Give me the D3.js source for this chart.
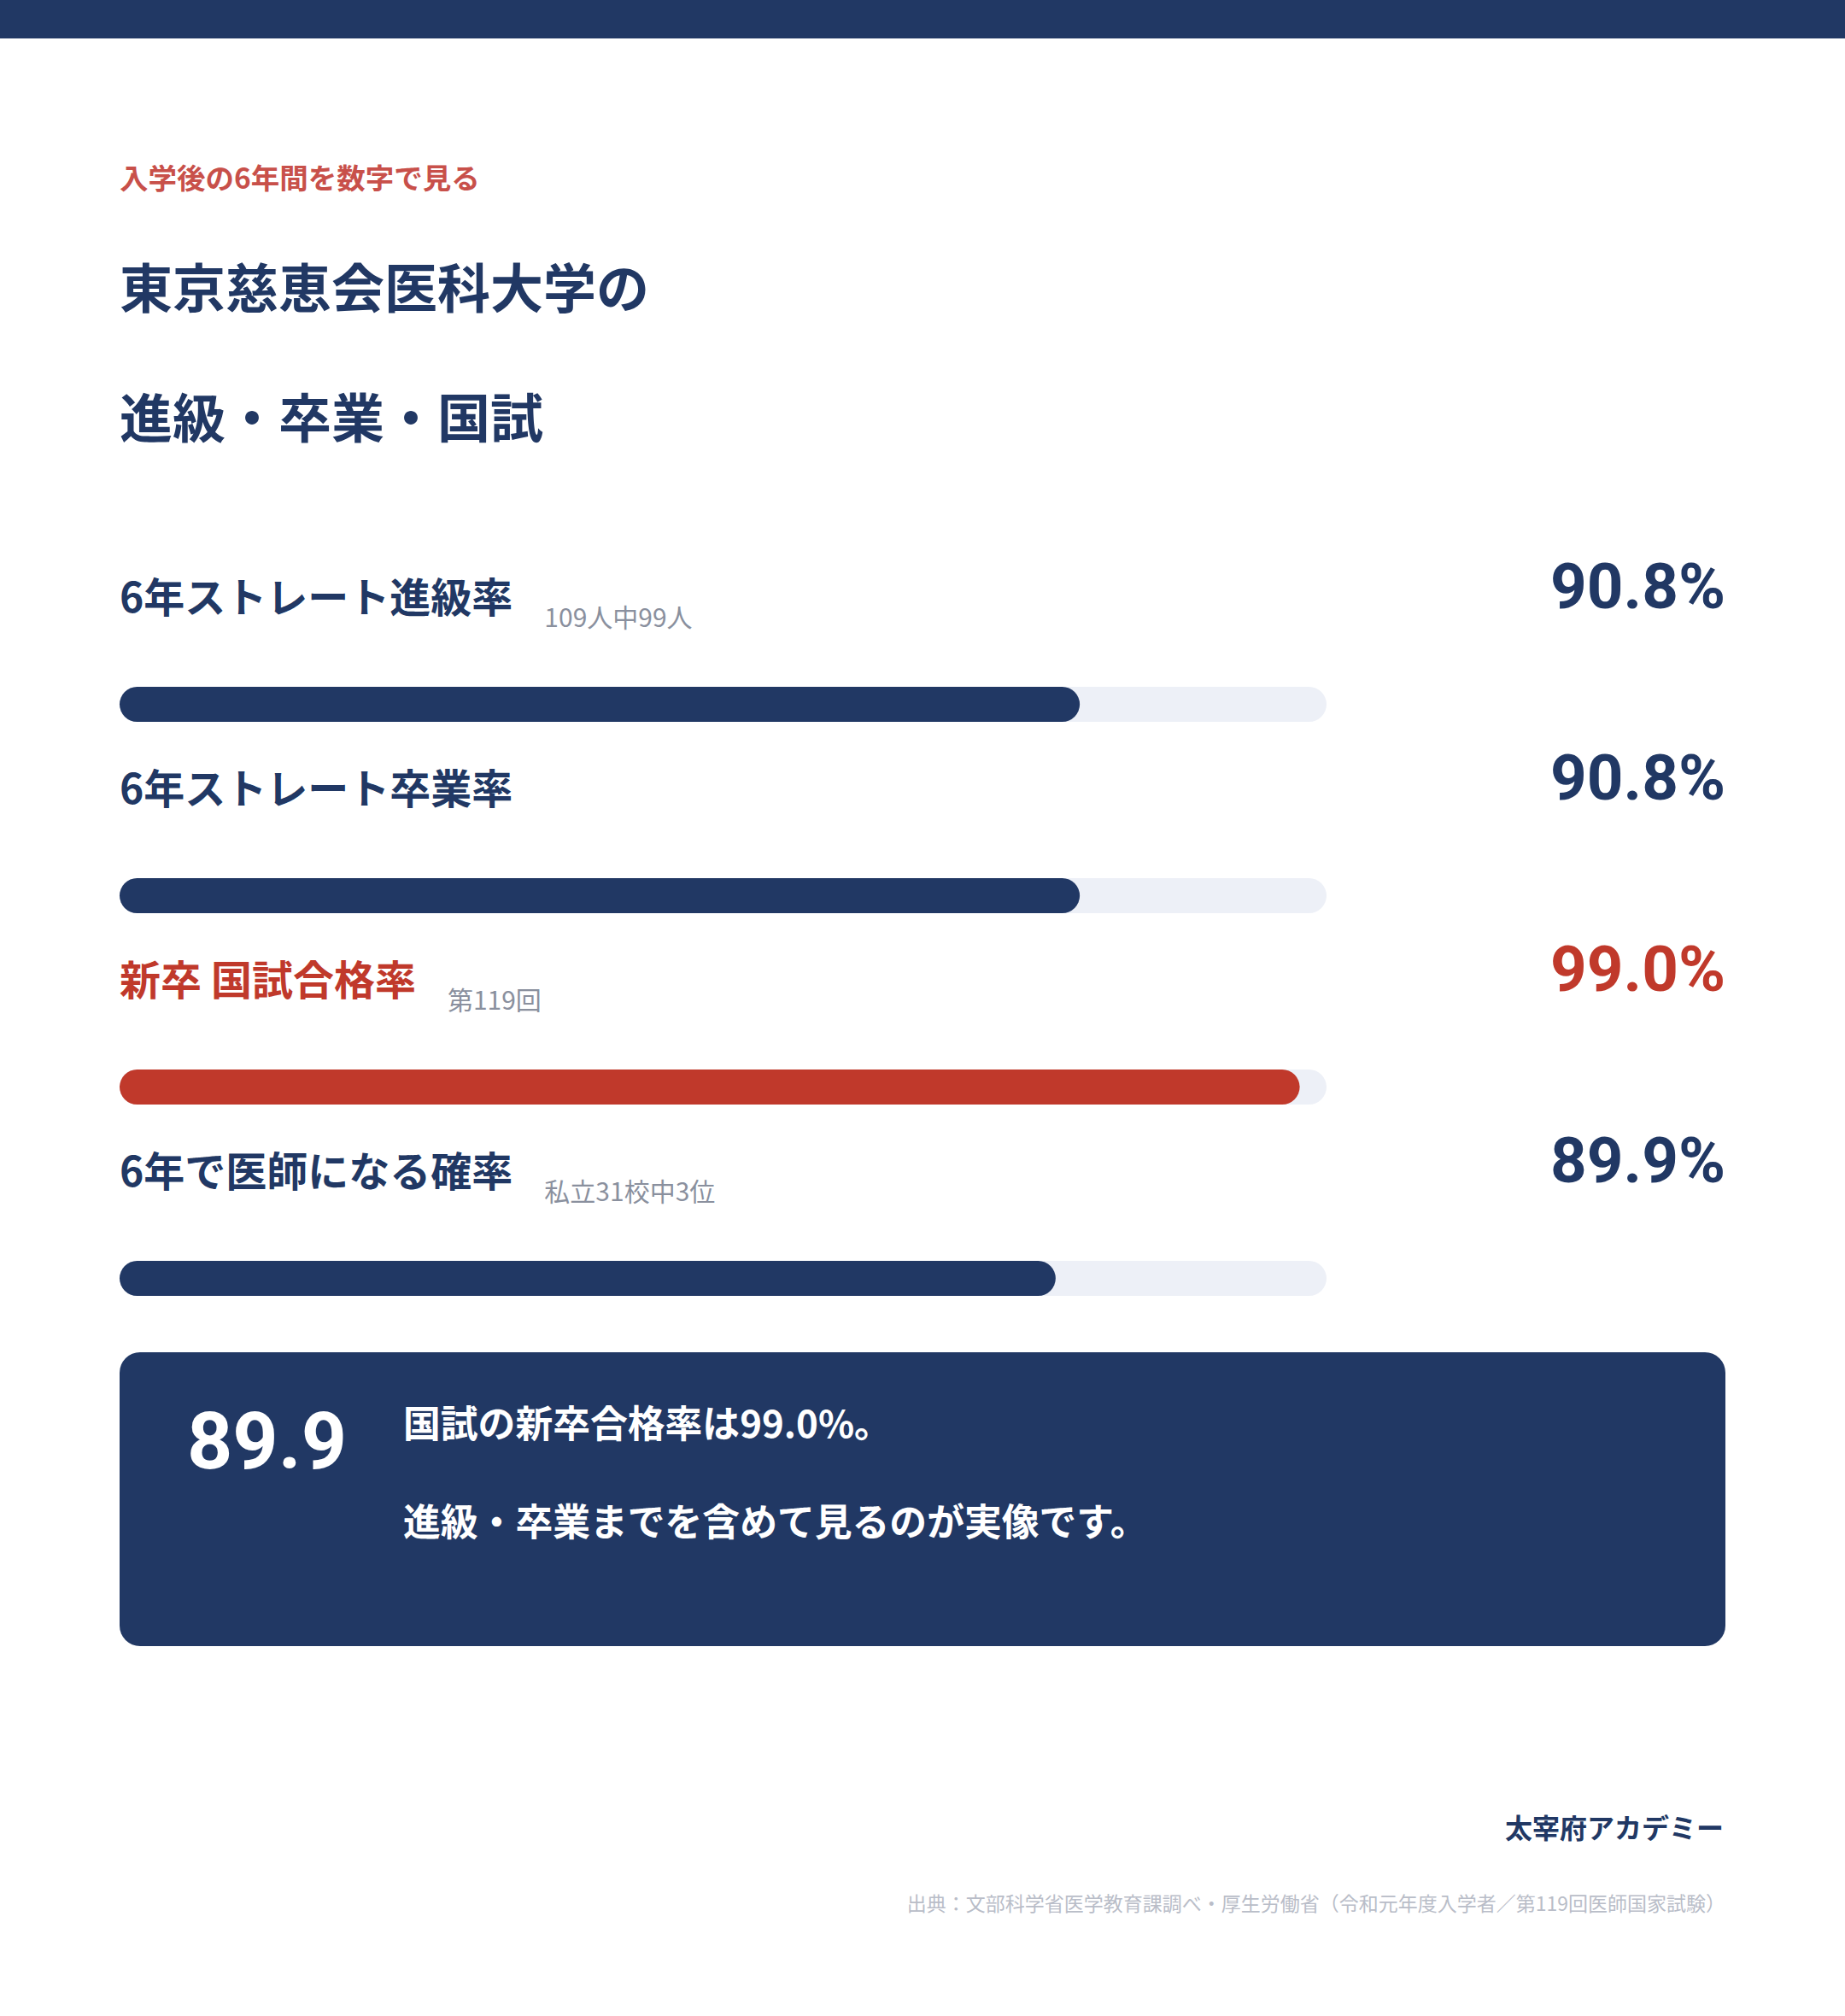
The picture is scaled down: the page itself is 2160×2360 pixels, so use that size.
<!DOCTYPE html>
<html>
<head>
<meta charset="utf-8">
<script src="https://cdn.jsdelivr.net/npm/d3@7"></script>
<style>
	body { margin: 0; background: #ffffff; }
	svg { display: block; }
</style>
</head>
<body>
<script>
var width = 2160;
var height = 2360;

var navy = "#213864";
var red = "#c0392b";
var track = "#edf0f7";
var gray = "#8a909e";
var font = "'Noto Sans CJK JP', 'Noto Sans', sans-serif";
var numFont = "Roboto, 'Liberation Sans', sans-serif";

// data
var labels = ["6年ストレート進級率", "6年ストレート卒業率", "新卒 国試合格率", "6年で医師になる確率"];
var values = [90.8, 90.8, 99.0, 89.9];
var notes = ["109人中99人", "", "第119回", "私立31校中3位"];
var highlight = [false, false, true, false];
var scaleDomain = [55, 100];

var kicker = "入学後の6年間を数字で見る";
var titleLines = ["東京慈恵会医科大学の", "進級・卒業・国試"];
var boxLines = ["国試の新卒合格率は99.0%。", "進級・卒業までを含めて見るのが実像です。"];
var brand = "太宰府アカデミー";
var source = "出典：文部科学省医学教育課調べ・厚生労働省（令和元年度入学者／第119回医師国家試験）";

var rows = labels.map(function(d, i) {
	return { label: d, value: values[i], note: notes[i], hot: highlight[i] };
});

function createSVG(){
	return d3.select("body")
	.append("svg")
	.attr("width", width)
	.attr("height", height);
}

var svg = createSVG();

svg.append("rect")
	.attr("x", 0).attr("y", 0)
	.attr("width", width).attr("height", 45)
	.attr("fill", navy);

function writeHeader(){
	svg.append("text")
	.attr("x", 140)
	.attr("y", 221)
	.attr("font-family", font)
	.attr("font-weight", 700)
	.attr("font-size", 33.5)
	.attr("fill", "#c8504a")
	.text(kicker);

	svg.selectAll("text.title")
	.data(titleLines)
	.enter()
	.append("text")
	.attr("class", "title")
	.attr("x", 140)
	.attr("y", function(d, i) { return 361 + i * 152; })
	.attr("font-family", font)
	.attr("font-weight", 700)
	.attr("font-size", 62)
	.attr("fill", navy)
	.text(function(d) { return d; });
}

var x = d3.scaleLinear().domain(scaleDomain).range([140, 1553]);
var y = d3.scaleBand().domain(d3.range(rows.length)).range([600, 600 + rows.length * 224]);
var barH = 41;

function generateRows(){
	var g = svg.selectAll("g.row")
	.data(rows)
	.enter()
	.append("g")
	.attr("class", "row")
	.attr("transform", function(d, i) { return "translate(0," + y(i) + ")"; });

	var lab = g.append("text")
	.attr("x", 140)
	.attr("y", 117)
	.attr("font-family", font)
	.attr("font-weight", 700)
	.attr("font-size", 48)
	.attr("fill", function(d) { return d.hot ? red : navy; })
	.text(function(d) { return d.label; });

	g.append("text")
	.attr("x", function(d, i) {
		return 140 + lab.nodes()[i].getComputedTextLength() + 37;
	})
	.attr("y", 134)
	.attr("font-family", font)
	.attr("font-weight", 400)
	.attr("font-size", 30)
	.attr("fill", gray)
	.text(function(d) { return d.note; });

	g.append("text")
	.attr("x", 2020)
	.attr("y", 112)
	.attr("text-anchor", "end")
	.attr("font-family", numFont)
	.attr("font-weight", 700)
	.attr("font-size", 74.5)
	.attr("fill", function(d) { return d.hot ? red : navy; })
	.text(function(d) { return d.value.toFixed(1) + "%"; });

	g.append("rect")
	.attr("x", x.range()[0])
	.attr("y", 204)
	.attr("width", x.range()[1] - x.range()[0])
	.attr("height", barH)
	.attr("rx", barH / 2)
	.attr("fill", track);

	g.append("rect")
	.attr("x", x.range()[0])
	.attr("y", 204)
	.attr("width", function(d) { return x(d.value) - x.range()[0]; })
	.attr("height", barH)
	.attr("rx", barH / 2)
	.attr("fill", function(d) { return d.hot ? red : navy; });
}

function generateBox(){
	svg.append("rect")
	.attr("x", 140)
	.attr("y", 1583)
	.attr("width", 1880)
	.attr("height", 344)
	.attr("rx", 24)
	.attr("fill", navy);

	svg.append("text")
	.attr("x", 219)
	.attr("y", 1719)
	.attr("font-family", numFont)
	.attr("font-weight", 700)
	.attr("font-size", 93)
	.attr("fill", "#ffffff")
	.text(values[3].toFixed(1));

	svg.selectAll("text.boxline")
	.data(boxLines)
	.enter()
	.append("text")
	.attr("class", "boxline")
	.attr("x", 472)
	.attr("y", function(d, i) { return 1683 + i * 115; })
	.attr("font-family", font)
	.attr("font-weight", 700)
	.attr("font-size", 43.8)
	.attr("fill", "#ffffff")
	.text(function(d) { return d; });
}

function writeFooter(){
	svg.append("text")
	.attr("x", 2018)
	.attr("y", 2152)
	.attr("text-anchor", "end")
	.attr("font-family", font)
	.attr("font-weight", 700)
	.attr("font-size", 32)
	.attr("fill", navy)
	.text(brand);

	svg.append("text")
	.attr("x", 2020)
	.attr("y", 2237)
	.attr("text-anchor", "end")
	.attr("font-family", font)
	.attr("font-weight", 400)
	.attr("font-size", 23)
	.attr("fill", "#b9bdc8")
	.text(source);
}

writeHeader();
generateRows();
generateBox();
writeFooter();
</script>
</body>
</html>
